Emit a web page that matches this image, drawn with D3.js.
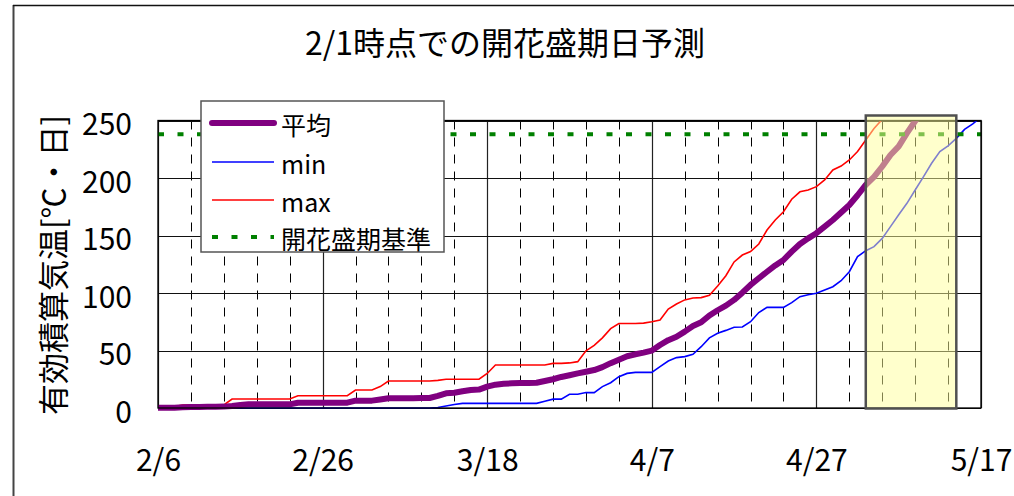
<!DOCTYPE html>
<html><head><meta charset="utf-8">
<script src="https://cdn.jsdelivr.net/npm/d3@7"></script>
<style>
body{margin:0;background:#fff}
svg{display:block}
text{font-family:"Noto Sans CJK JP","Noto Sans",sans-serif;fill:#000}
</style>
</head><body>
<svg id="c" width="1014" height="496"></svg>
<script>
// ---------- data ----------
const chartTitle = "2/1時点での開花盛期日予測";
const yAxisTitle = "有効積算気温[℃・日]";
const axisStart = "2/6";
const axisEnd = "5/17";
const xTickLabels = ["2/6","2/26","3/18","4/7","4/27","5/17"];
const yTickValues = [0,50,100,150,200,250];
const seriesNames = ["平均","min","max","開花盛期基準"];
// daily cumulative values, index 0 = 2/6
const meanValues = [
  0.3,0.3,0.3,0.6,0.8,0.9,1.0,1.1,1.2,1.8,
  2.6,3.2,3.2,3.2,3.2,3.2,3.2,4.6,4.6,4.6,
  4.6,4.6,4.6,4.6,6.4,6.4,6.4,7.4,8.4,8.4,
  8.4,8.5,8.6,8.7,10.5,12.8,13.2,14.5,15.6,16.0,
  18.6,20.3,21.0,21.5,21.7,21.8,22.0,23.5,25.0,27.0,
  28.5,30.1,31.5,33.0,35.5,39.0,42.0,45.0,46.7,48.2,
  49.9,54.8,59.0,62.0,66.4,71.3,74.5,80.5,85.0,89.0,
  94.0,100.3,107.0,112.8,118.5,124.0,128.7,136.0,142.6,147.5,
  152.0,157.7,163.5,170.0,176.5,185.0,194.0,201.0,210.0,220.0,
  227.5,239.0,249.6,258.0
];
const minValues = [
  0,0,0,0,0,0,0,0,0,0,
  0,0,0,0,0,0,0,0,0,0,
  0,0,0,0,0,0,0,0,0,0,
  0,0,0,0,0.5,1.7,3.0,4.0,4.0,4.0,
  4.0,4.0,4.0,4.0,4.0,4.0,4.0,5.8,7.7,7.7,
  11.9,11.9,13.4,13.4,18.6,22.0,27.2,30.1,31.0,31.0,
  31.0,36.0,40.9,43.8,44.7,46.7,53.3,61.0,65.0,67.5,
  70.2,70.4,75.0,83.0,87.5,87.5,87.5,91.6,96.8,98.5,
  99.7,102.6,105.5,110.7,118.5,131.6,136.8,140.3,147.5,157.7,
  168.0,178.0,189.6,201.0,212.8,223.0,228.0,234.5,242.3,247.0,
  253.0
];
const maxValues = [
  1.2,1.2,1.2,2.6,2.6,2.6,2.6,2.6,2.6,7.8,
  7.8,7.8,7.8,7.8,7.8,7.8,7.8,10.7,10.7,10.7,
  10.7,10.7,10.7,10.7,15.6,15.6,15.6,18.6,23.5,23.5,
  23.5,23.5,23.5,23.5,24.0,25.0,25.0,25.0,25.0,25.0,
  30.0,37.4,37.4,37.4,37.4,37.4,37.4,37.4,38.8,38.8,
  39.2,40.3,49.8,54.5,61.0,69.0,73.5,73.5,73.5,73.8,
  75.0,76.5,86.0,90.4,94.0,95.6,96.0,98.0,106.0,115.0,
  127.0,133.0,136.0,142.6,154.8,163.5,170.7,181.5,188.0,189.6,
  192.5,198.3,207.0,210.4,215.7,223.0,233.0,243.0,251.0
];
const thresholdValue = 238;
const highlightRange = ["5/3","5/14"];

// ---------- helpers ----------
const parseMD = s => { const [m,d] = s.split("/").map(Number); return new Date(Date.UTC(2023, m-1, d)); };
const start = parseMD(axisStart), end = parseMD(axisEnd);

const svg = d3.select("#c");
const L = 158, R = 981, T = 120.5, B = 408;

const x = d3.scaleUtc().domain([start, end]).range([L, R]);
const y = d3.scaleLinear().domain([0, 250]).range([B, T]);

// outer chart border (cropped)
svg.append("line").attr("x1",13.5).attr("x2",13.5).attr("y1",5).attr("y2",496)
  .attr("stroke","#444").attr("stroke-width",2);
svg.append("line").attr("x1",13).attr("x2",1014).attr("y1",5.5).attr("y2",5.5)
  .attr("stroke","#111").attr("stroke-width",1.3);

// title
svg.append("text").attr("x",505).attr("y",41).attr("text-anchor","middle")
  .attr("dominant-baseline","central").style("font-size","32px").text(chartTitle);

// y-axis title
svg.append("text").attr("transform","translate(51,265) rotate(-90)")
  .attr("text-anchor","middle").attr("dominant-baseline","central")
  .style("font-size","31px").text(yAxisTitle);

// grid: minor dashed verticals every 4 days, major solid every 20 days
const allDays = d3.utcDay.range(start, d3.utcDay.offset(end, 1));
const gridG = svg.append("g");
const minorDays = allDays.filter((d,i) => i % 4 === 0 && i % 20 !== 0);
gridG.selectAll("line.minor").data(minorDays).join("line")
  .attr("x1", d => Math.round(x(d)) + 0.5).attr("x2", d => Math.round(x(d)) + 0.5)
  .attr("y1", T).attr("y2", B)
  .attr("stroke","#000").attr("stroke-width",1).attr("stroke-dasharray","9,8");
const majorDays = xTickLabels.map(parseMD);
gridG.selectAll("line.major").data(majorDays).join("line")
  .attr("x1", d => Math.round(x(d)) + 0.5).attr("x2", d => Math.round(x(d)) + 0.5)
  .attr("y1", T).attr("y2", B)
  .attr("stroke","#222").attr("stroke-width",1.2);
gridG.selectAll("line.h").data(yTickValues).join("line")
  .attr("x1", L).attr("x2", R)
  .attr("y1", d => Math.round(y(d)) + 0.5).attr("y2", d => Math.round(y(d)) + 0.5)
  .attr("stroke","#111").attr("stroke-width",1.2);

// clip
svg.append("clipPath").attr("id","plotclip").append("rect")
  .attr("x",L).attr("y",T).attr("width",R-L).attr("height",B-T+4);

const toPts = vals => vals.map((v,i) => [d3.utcDay.offset(start, i), v]);
const line = d3.line().x(d => x(d[0])).y(d => y(d[1]));
const plotG = svg.append("g").attr("clip-path","url(#plotclip)");

plotG.append("path").datum(toPts(maxValues)).attr("d", line)
  .attr("fill","none").attr("stroke","#ff0000").attr("stroke-width",1.6);
plotG.append("path").datum(toPts(minValues)).attr("d", line)
  .attr("fill","none").attr("stroke","#0000ff").attr("stroke-width",1.6);
plotG.append("path").datum(toPts(meanValues)).attr("d", line)
  .attr("fill","none").attr("stroke","#800080").attr("stroke-width",6)
  .attr("stroke-linejoin","round");

// threshold
svg.append("line").attr("x1",L).attr("x2",R)
  .attr("y1", y(thresholdValue)).attr("y2", y(thresholdValue))
  .attr("stroke","#008000").attr("stroke-width",4).attr("stroke-dasharray","6,13.5");

// axes labels
const yAxis = d3.axisLeft(y).tickValues(yTickValues).tickSize(0).tickPadding(26);
const yg = svg.append("g").attr("transform",`translate(${L},0)`).call(yAxis);
yg.select(".domain").remove();
yg.selectAll("text").attr("dy","0.48em").style("font-size","30px")
  .style("font-family",'"Noto Sans CJK JP",sans-serif');

const xAxis = d3.axisBottom(x).tickValues(majorDays).tickSize(0).tickPadding(42)
  .tickFormat((d,i) => xTickLabels[i]);
const xg = svg.append("g").attr("transform",`translate(0,${B})`).call(xAxis);
xg.select(".domain").remove();
xg.selectAll("text").style("font-size","30px")
  .style("font-family",'"Noto Sans CJK JP",sans-serif');

// plot border
svg.append("rect").attr("x",L).attr("y",T).attr("width",R-L).attr("height",B-T)
  .attr("fill","none").attr("stroke","#000").attr("stroke-width",1.3);

// highlight box
const hx0 = x(parseMD(highlightRange[0])), hx1 = x(parseMD(highlightRange[1]));
svg.append("rect").attr("x",hx0).attr("y",115.5).attr("width",hx1-hx0).attr("height",B+0.5-115.5)
  .attr("fill","#ffff99").attr("fill-opacity",0.5)
  .attr("stroke","#505050").attr("stroke-width",2.5);

// legend
const lg = svg.append("g");
lg.append("rect").attr("x",201).attr("y",101).attr("width",243).attr("height",151)
  .attr("fill","#fff").attr("stroke","#555").attr("stroke-width",1.5);
const legendStyles = [
  {color:"#800080", w:6, dash:null, cap:"round"},
  {color:"#0000ff", w:1.6, dash:null, cap:"butt"},
  {color:"#ff0000", w:1.6, dash:null, cap:"butt"},
  {color:"#008000", w:4, dash:"6,13.5", cap:"butt"}
];
const legendY = [123, 162, 200, 237];
seriesNames.forEach((name, i) => {
  const st = legendStyles[i];
  lg.append("line").attr("x1", 212).attr("x2", 274).attr("y1", legendY[i]).attr("y2", legendY[i])
    .attr("stroke", st.color).attr("stroke-width", st.w).attr("stroke-linecap", st.cap)
    .attr("stroke-dasharray", st.dash);
  lg.append("text").attr("x", 281).attr("y", legendY[i] + 1).attr("dominant-baseline","central")
    .style("font-size","25px").text(name);
});
</script>
</body></html>
